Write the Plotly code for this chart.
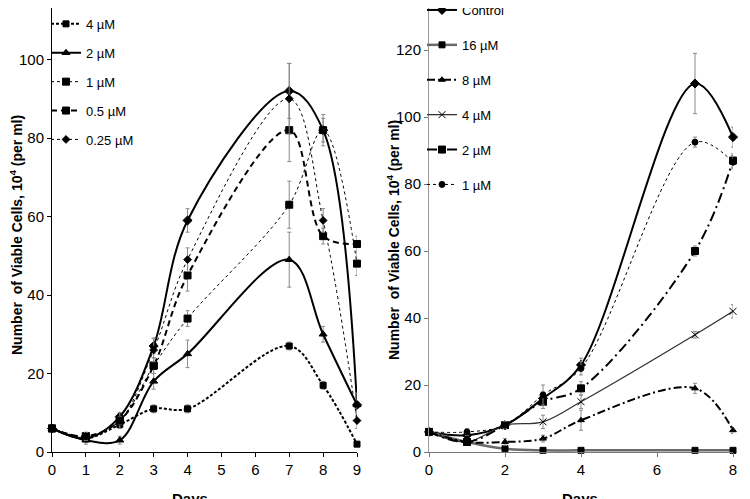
import plotly.graph_objects as go

# left panel (days 0-9)
days_a = [0, 1, 2, 3, 4, 7, 8, 9]
labels_a = ["Control", "4 µM", "2 µM", "1 µM", "0.5 µM", "0.25 µM"]
vals_a = [
    [6, 3.5, 9, 27, 59, 92, 82, 12],     # Control
    [6, 3.5, 7, 11, 11, 27, 17, 2],      # 4 uM
    [6, 3, 3, 18, 25, 49, 30, 12],       # 2 uM
    [6, 4, 8, 22, 34, 63, 82, 48],       # 1 uM
    [6, 4, 8, 22, 45, 82, 55, 53],       # 0.5 uM
    [6, 4, 8, 26, 49, 90, 59, 8],        # 0.25 uM
]
err_a = [
    [0, 1, 1, 2, 3, 7, 3, 2],
    [0, 1, 1, 1, 1, 1, 1, 0],
    [0, 1, 1, 2, 3.5, 7, 2, 3],
    [0, 1, 1, 2, 2, 6, 4, 3],
    [0, 1, 1, 2, 4, 8, 2, 2],
    [0, 1, 2, 3, 3, 9, 3, 2],
]

# right panel (days 0-8)
days_b = [0, 1, 2, 3, 4, 7, 8]
labels_b = ["Control", "16 µM", "8 µM", "4 µM", "2 µM", "1 µM"]
vals_b = [
    [6, 5, 8, 16, 26, 110, 94],          # Control
    [6, 3, 1, 0.5, 0.5, 0.5, 0.5],       # 16 uM
    [6, 3, 3, 4, 9.5, 19, 6.5],          # 8 uM
    [6, 3, 8, 9, 15, 35, 42],            # 4 uM
    [6, 3, 8, 15, 19, 60, 87],           # 2 uM
    [6, 6, 8, 17, 25, 92.5, 86.5],       # 1 uM
]
err_b = [
    [0, 1, 1, 2, 2, 9, 3],
    [0, 0, 0, 0, 0, 0, 0],
    [0, 0, 1, 1, 3, 1.5, 1],
    [0, 1, 1, 2, 2, 1, 2],
    [0, 1, 1, 2, 2, 1.5, 2],
    [0, 1, 1, 3, 2, 1.5, 2],
]

font = "Liberation Sans Narrow, Arial Narrow, Liberation Sans, Arial"

styles_a = [
    dict(dash="solid", width=2, symbol="diamond", size=7, color="black"),
    dict(dash="3px,2px", width=2, symbol="square", size=6, color="black"),
    dict(dash="solid", width=2, symbol="triangle-up", size=7, color="black"),
    dict(dash="dot", width=1, symbol="square", size=7, color="black"),
    dict(dash="6px,4px", width=2, symbol="square", size=7, color="black"),
    dict(dash="dot", width=1, symbol="diamond", size=6, color="black"),
]
styles_b = [
    dict(dash="solid", width=2, symbol="diamond", size=7, color="black"),
    dict(dash="solid", width=2.5, symbol="square", size=6, color="#6a6a6a"),
    dict(dash="8px,3px,2px,3px", width=2, symbol="triangle-up", size=6, color="black"),
    dict(dash="solid", width=1.3, symbol="x-thin-open", size=7, color="#333"),
    dict(dash="10px,4px,2px,4px", width=2, symbol="square", size=7, color="black"),
    dict(dash="dot", width=1, symbol="circle", size=6, color="black"),
]

fig = go.Figure()

for i, name in enumerate(labels_a):
    s = styles_a[i]
    fig.add_trace(go.Scatter(
        x=days_a, y=vals_a[i], name=name, mode="lines+markers",
        line=dict(shape="spline", dash=s["dash"], width=s["width"], color=s["color"]),
        marker=dict(symbol=s["symbol"], size=s["size"], color="black",
                    line=dict(color="black", width=1)),
        error_y=dict(type="data", array=err_a[i], color="#8a8a8a", thickness=1, width=2),
        xaxis="x", yaxis="y", legend="legend", legendgroup="a%d" % i,
        cliponaxis=False,
    ))

for i, name in enumerate(labels_b):
    s = styles_b[i]
    fig.add_trace(go.Scatter(
        x=days_b, y=vals_b[i], name=name, mode="lines+markers",
        line=dict(shape="spline", dash=s["dash"], width=s["width"], color=s["color"]),
        marker=dict(symbol=s["symbol"], size=s["size"], color="black",
                    line=dict(color="black", width=1)),
        error_y=dict(type="data", array=err_b[i], color="#8a8a8a", thickness=1, width=2),
        xaxis="x2", yaxis="y2", legend="legend2", legendgroup="b%d" % i,
        cliponaxis=False,
    ))

# the page adds an 8px offset, so figure coords are shifted by -8
W, H = 750, 499
PH = 444  # plot area height in px
axis_common = dict(showgrid=False, zeroline=False, showline=True, ticks="outside",
                   ticklen=4, tickfont=dict(family=font, size=15, color="black"))

fig.update_layout(
    width=W, height=H,
    margin=dict(l=0, r=0, t=0, b=H - PH, autoexpand=False),
    paper_bgcolor="white", plot_bgcolor="white",
    showlegend=True,
    xaxis=dict(domain=[44 / W, 349 / W], range=[0, 9], dtick=1, linecolor="black",
               tickcolor="black", anchor="y", **axis_common),
    yaxis=dict(domain=[0, 1], range=[0, PH / 3.925], dtick=20, linecolor="black",
               tickcolor="black", anchor="x", **axis_common),
    xaxis2=dict(domain=[421 / W, 725 / W], range=[0, 8], dtick=2, linecolor="#777",
                tickcolor="#777", anchor="y2", **axis_common),
    yaxis2=dict(domain=[0, 1], range=[0, PH / 3.35], dtick=20, linecolor="#999",
                tickcolor="#777", anchor="x2", **axis_common),
    legend=dict(x=38 / W, y=1 + 28 / PH, xanchor="left", yanchor="top",
                font=dict(family=font, size=13, color="black"),
                tracegroupgap=9, bgcolor="rgba(0,0,0,0)", itemwidth=30),
    legend2=dict(x=414 / W, y=1 + 13 / PH, xanchor="left", yanchor="top",
                 font=dict(family=font, size=13, color="black"),
                 tracegroupgap=15, bgcolor="rgba(0,0,0,0)", itemwidth=30),
)

ytitle = "<b>Number  of Viable Cells, 10<sup>4</sup> (per ml)</b>"
for xp, yp in [(8, 227), (385, 232)]:
    fig.add_annotation(text=ytitle, xref="paper", yref="paper",
                       x=xp / W, y=(PH - yp) / PH, textangle=-90, showarrow=False,
                       font=dict(family="Liberation Sans, Arial", size=14, color="black"),
                       xanchor="center", yanchor="middle")

for xp in [182, 572]:
    fig.add_annotation(text="<b>Days</b>", xref="paper", yref="paper",
                       x=xp / W, y=(PH - 480) / PH, showarrow=False,
                       font=dict(family="Liberation Sans, Arial", size=15, color="black"),
                       xanchor="center", yanchor="top")

fig.write_html("out.html")
